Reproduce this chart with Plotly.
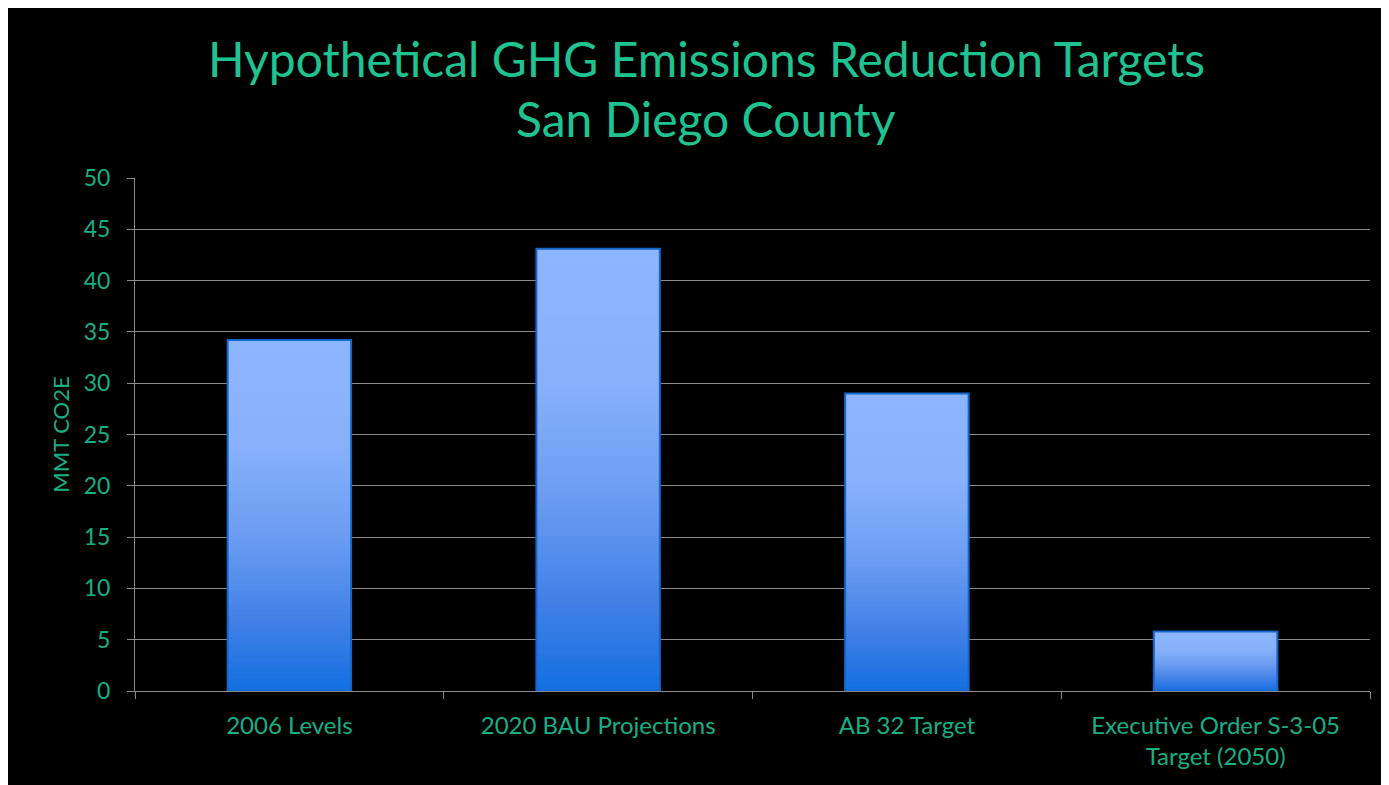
import plotly.graph_objects as go

categories = ["2006 Levels", "2020 BAU Projections", "AB 32 Target",
              "Executive Order S-3-05<br>Target (2050)"]
values = [34.2, 43.1, 29.0, 5.8]
y_ticks = [0, 5, 10, 15, 20, 25, 30, 35, 40, 45, 50]
title_lines = ["Hypothetical GHG Emissions Reduction Targets", "San Diego County"]

# gradient stops (fraction from top of bar, rgb)
stops = [(0.0, (141, 181, 255)), (0.3, (136, 177, 252)), (0.55, (108, 157, 242)),
         (0.8, (66, 128, 231)), (1.0, (18, 111, 224))]

def color_at(f):
    for (f0, c0), (f1, c1) in zip(stops[:-1], stops[1:]):
        if f0 <= f <= f1:
            t = (f - f0) / (f1 - f0) if f1 > f0 else 0
            return "rgb(%d,%d,%d)" % tuple(round(a + (b - a) * t) for a, b in zip(c0, c1))
    return "rgb(%d,%d,%d)" % stops[-1][1]

N = 60
fig = go.Figure()
for k in range(N, 0, -1):
    frac = k / N
    f_top = 1 - frac
    fig.add_trace(go.Bar(
        x=categories, y=[v * frac for v in values],
        marker=dict(color=color_at(f_top + 0.5 / N), line=dict(width=0)),
        width=0.4, hoverinfo="skip", showlegend=False))
fig.add_trace(go.Bar(
    x=categories, y=values, width=0.4,
    marker=dict(color="rgba(0,0,0,0)", line=dict(color="#1566C9", width=2)),
    showlegend=False))

# page has 8px body margin; figure occupies 8..1389 x 8..785
W, H = 1381, 777
L, R, T, B = 127, 19, 170, 94
pw, ph = W - L - R, H - T - B

teal = "#17AF86"
title_color = "#1FC291"
fig.add_annotation(text=title_lines[0], xref="paper", yref="paper",
                   x=(698 - L) / pw, y=(H - B - 50) / ph, xanchor="center", yanchor="middle",
                   showarrow=False, font=dict(family="Lato", size=48, color=title_color))
fig.add_annotation(text=title_lines[1], xref="paper", yref="paper",
                   x=(698 - L) / pw, y=(H - B - 110) / ph, xanchor="center", yanchor="middle",
                   showarrow=False, font=dict(family="Lato", size=48, color=title_color))

fig.update_layout(
    width=W, height=H, barmode="overlay",
    paper_bgcolor="black", plot_bgcolor="black",
    margin=dict(l=L, r=R, t=T, b=B),
    font=dict(family="Lato", color=teal),
    xaxis=dict(showline=True, linecolor="#8a8a8a", linewidth=1, ticks="outside",
               tickson="boundaries", ticklen=7, tickcolor="#8a8a8a",
               tickfont=dict(size=24, color=teal), showgrid=False,
               ticklabelstandoff=13),
    yaxis=dict(range=[0, 50], tickvals=y_ticks, showline=True, linecolor="#8a8a8a",
               linewidth=1, ticks="outside", ticklen=7, tickcolor="#8a8a8a",
               gridcolor="#8a8a8a", gridwidth=1, zeroline=False,
               tickfont=dict(size=23, color=teal), ticklabelstandoff=12,
               title=dict(text="MMT CO2E", font=dict(size=22, color=teal), standoff=8)),
)
fig.write_html("out.html")
